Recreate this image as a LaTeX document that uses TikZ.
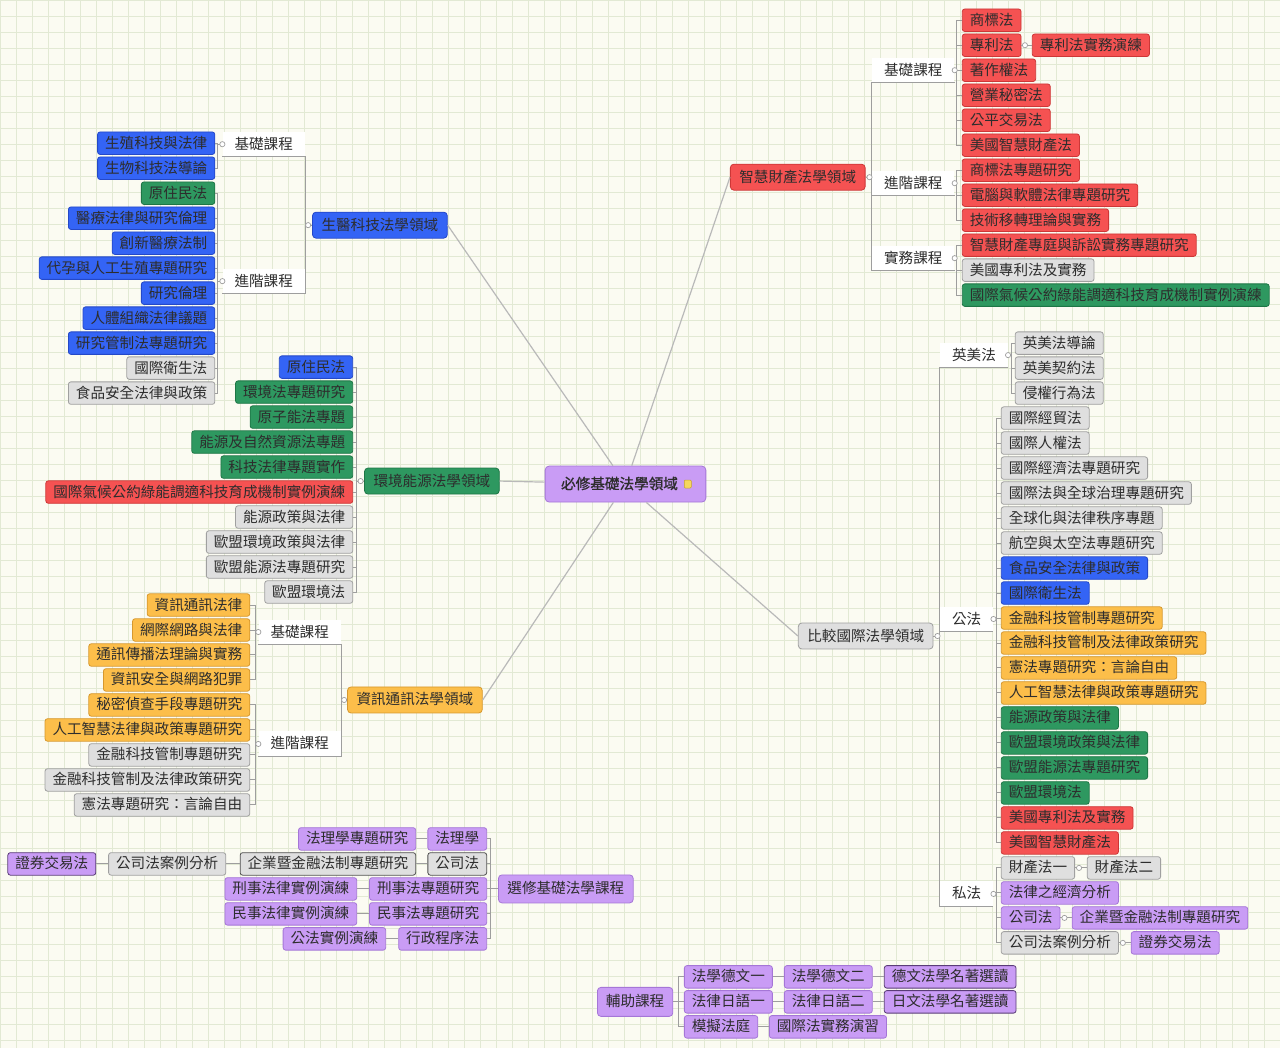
\documentclass[tikz,border=0pt]{standalone}
\usepackage{fontspec}
\setmainfont{Noto Sans CJK TC}
\newfontfamily\cjkb[FakeBold=1.2]{Noto Sans CJK TC}
\usetikzlibrary{calc}
\definecolor{bg}{RGB}{251,251,242}
\definecolor{gridc}{RGB}{226,233,212}
\definecolor{txt}{RGB}{45,45,45}
\definecolor{linec}{RGB}{158,158,158}
\definecolor{mainline}{RGB}{185,185,185}
\definecolor{bluef}{RGB}{52,100,245}
\definecolor{blued}{RGB}{36,72,200}
\definecolor{greenf}{RGB}{46,152,96}
\definecolor{greend}{RGB}{30,118,70}
\definecolor{redf}{RGB}{245,82,82}
\definecolor{redd}{RGB}{205,55,55}
\definecolor{orangef}{RGB}{252,190,74}
\definecolor{oranged}{RGB}{215,152,45}
\definecolor{grayf}{RGB}{223,223,223}
\definecolor{grayd}{RGB}{160,160,160}
\definecolor{purplef}{RGB}{201,156,245}
\definecolor{purpled}{RGB}{165,118,215}
\definecolor{darkd}{RGB}{80,80,80}
\definecolor{darkp}{RGB}{90,60,120}
\definecolor{notef}{RGB}{245,215,95}
\definecolor{noted}{RGB}{200,165,40}
\begin{document}
\begin{tikzpicture}[x=1pt,y=-1pt,
 nbox/.style={draw, rounded corners=2.5pt, line width=0.8pt, inner xsep=7.5pt, inner ysep=0pt, minimum height=22.5pt, text height=12.5pt, text depth=2.5pt, font=\fontsize{14.6}{16}\selectfont, text=txt},
 bl/.style={nbox, fill=bluef, draw=blued},
 gr/.style={nbox, fill=greenf, draw=greend},
 rd/.style={nbox, fill=redf, draw=redd},
 og/.style={nbox, fill=orangef, draw=oranged},
 gy/.style={nbox, fill=grayf, draw=grayd},
 pu/.style={nbox, fill=purplef, draw=purpled},
 topic/.style={minimum height=26pt, inner xsep=9pt, rounded corners=3.5pt},
 lab/.style={fill=white, inner xsep=12pt, inner ysep=0pt, minimum height=25pt, text height=12.5pt, text depth=2.5pt, font=\fontsize{14.6}{16}\selectfont, text=txt},
 conn/.style={draw=linec, line width=1pt},
 mconn/.style={draw=mainline, line width=1.2pt},
 knob/.style={draw=linec, fill=white, line width=0.7pt},
]
\fill[bg] (0,0) rectangle (1280,1048);
\draw[gridc, line width=0.5pt, step=16pt] (0,0) grid (1280,1048);
\useasboundingbox (0,0) rectangle (1280,1048);

% ---------- center ----------
\node[pu, minimum height=36pt, inner xsep=16pt, rounded corners=4pt, font=\cjkb\fontsize{14.6}{16}\selectfont] (center) at (625.5,484) {必修基礎法學領域\kern12pt\relax};

% ---------- bio ----------
\node[bl, topic, anchor=west] (bio) at (312,225) {生醫科技法學領域};
\node[lab, anchor=east] (bioA) at (305,144) {基礎課程};
\node[lab, anchor=east] (bioB) at (305,281) {進階課程};
\node[bl, anchor=east] (b1) at (215,143) {生殖科技與法律};
\node[bl, anchor=east] (b2) at (215,168) {生物科技法導論};
\node[gr, anchor=east] (b3) at (215,193) {原住民法};
\node[bl, anchor=east] (b4) at (215,218) {醫療法律與研究倫理};
\node[bl, anchor=east] (b5) at (215,243) {創新醫療法制};
\node[bl, anchor=east] (b6) at (215,268) {代孕與人工生殖專題研究};
\node[bl, anchor=east] (b7) at (215,293) {研究倫理};
\node[bl, anchor=east] (b8) at (215,318) {人體組織法律議題};
\node[bl, anchor=east] (b9) at (215,343) {研究管制法專題研究};
\node[gy, anchor=east] (b10) at (215,368) {國際衛生法};
\node[gy, anchor=east] (b11) at (215,393) {食品安全法律與政策};

% ---------- env ----------
\node[gr, topic, anchor=west] (env) at (364,481) {環境能源法學領域};
\node[bl, anchor=east] (e1) at (353,367) {原住民法};
\node[gr, anchor=east] (e2) at (353,392) {環境法專題研究};
\node[gr, anchor=east] (e3) at (353,417) {原子能法專題};
\node[gr, anchor=east] (e4) at (353,442) {能源及自然資源法專題};
\node[gr, anchor=east] (e5) at (353,467) {科技法律專題實作};
\node[rd, anchor=east] (e6) at (353,492) {國際氣候公約綠能調適科技育成機制實例演練};
\node[gy, anchor=east] (e7) at (353,517) {能源政策與法律};
\node[gy, anchor=east] (e8) at (353,542) {歐盟環境政策與法律};
\node[gy, anchor=east] (e9) at (353,567) {歐盟能源法專題研究};
\node[gy, anchor=east] (e10) at (353,592) {歐盟環境法};

% ---------- ict ----------
\node[og, topic, anchor=west] (ict) at (347,700) {資訊通訊法學領域};
\node[lab, anchor=east] (ictA) at (341,632) {基礎課程};
\node[lab, anchor=east] (ictB) at (341,744) {進階課程};
\node[og, anchor=east] (i1) at (250,605) {資訊通訊法律};
\node[og, anchor=east] (i2) at (250,630) {網際網路與法律};
\node[og, anchor=east] (i3) at (250,655) {通訊傳播法理論與實務};
\node[og, anchor=east] (i4) at (250,680) {資訊安全與網路犯罪};
\node[og, anchor=east] (i5) at (250,705) {秘密偵查手段專題研究};
\node[og, anchor=east] (i6) at (250,730) {人工智慧法律與政策專題研究};
\node[gy, anchor=east] (i7) at (250,755) {金融科技管制專題研究};
\node[gy, anchor=east] (i8) at (250,780) {金融科技管制及法律政策研究};
\node[gy, anchor=east] (i9) at (250,805) {憲法專題研究：言論自由};

% ---------- ip ----------
\node[rd, topic, anchor=west] (ip) at (730,177) {智慧財產法學領域};
\node[lab, anchor=west] (ipA) at (872,70) {基礎課程};
\node[lab, anchor=west] (ipB) at (872,183) {進階課程};
\node[lab, anchor=west] (ipC) at (872,258) {實務課程};
\node[rd, anchor=west] (p1) at (962,20) {商標法};
\node[rd, anchor=west] (p2) at (962,45) {專利法};
\node[rd, anchor=west] (p2b) at (1032,45) {專利法實務演練};
\node[rd, anchor=west] (p3) at (962,70) {著作權法};
\node[rd, anchor=west] (p4) at (962,95) {營業秘密法};
\node[rd, anchor=west] (p5) at (962,120) {公平交易法};
\node[rd, anchor=west] (p6) at (962,145) {美國智慧財產法};
\node[rd, anchor=west] (p7) at (962,170) {商標法專題研究};
\node[rd, anchor=west] (p8) at (962,195) {電腦與軟體法律專題研究};
\node[rd, anchor=west] (p9) at (962,220) {技術移轉理論與實務};
\node[rd, anchor=west] (p10) at (962,245) {智慧財產專庭與訴訟實務專題研究};
\node[gy, anchor=west] (p11) at (962,270) {美國專利法及實務};
\node[gr, anchor=west] (p12) at (962,295) {國際氣候公約綠能調適科技育成機制實例演練};

% ---------- comp ----------
\node[gy, topic, anchor=west] (comp) at (798,636) {比較國際法學領域};
\node[lab, anchor=west] (compA) at (940,355) {英美法};
\node[lab, anchor=west] (compB) at (940,619) {公法};
\node[lab, anchor=west] (compC) at (940,894) {私法};
\node[gy, anchor=west] (c1) at (1015,343) {英美法導論};
\node[gy, anchor=west] (c2) at (1015,368) {英美契約法};
\node[gy, anchor=west] (c3) at (1015,393) {侵權行為法};
\node[gy, anchor=west] (c4) at (1001,418) {國際經貿法};
\node[gy, anchor=west] (c5) at (1001,443) {國際人權法};
\node[gy, anchor=west] (c6) at (1001,468) {國際經濟法專題研究};
\node[gy, anchor=west] (c7) at (1001,493) {國際法與全球治理專題研究};
\node[gy, anchor=west] (c8) at (1001,518) {全球化與法律秩序專題};
\node[gy, anchor=west] (c9) at (1001,543) {航空與太空法專題研究};
\node[bl, anchor=west] (c10) at (1001,568) {食品安全法律與政策};
\node[bl, anchor=west] (c11) at (1001,593) {國際衛生法};
\node[og, anchor=west] (c12) at (1001,618) {金融科技管制專題研究};
\node[og, anchor=west] (c13) at (1001,643) {金融科技管制及法律政策研究};
\node[og, anchor=west] (c14) at (1001,668) {憲法專題研究：言論自由};
\node[og, anchor=west] (c15) at (1001,693) {人工智慧法律與政策專題研究};
\node[gr, anchor=west] (c16) at (1001,718) {能源政策與法律};
\node[gr, anchor=west] (c17) at (1001,743) {歐盟環境政策與法律};
\node[gr, anchor=west] (c18) at (1001,768) {歐盟能源法專題研究};
\node[gr, anchor=west] (c19) at (1001,793) {歐盟環境法};
\node[rd, anchor=west] (c20) at (1001,818) {美國專利法及實務};
\node[rd, anchor=west] (c21) at (1001,843) {美國智慧財產法};
\node[gy, anchor=west] (c22) at (1001,868) {財產法一};
\node[gy, anchor=west] (c22b) at (1087,868) {財產法二};
\node[pu, anchor=west] (c23) at (1001,893) {法律之經濟分析};
\node[pu, anchor=west] (c24) at (1001,918) {公司法};
\node[pu, anchor=west] (c24b) at (1072,918) {企業暨金融法制專題研究};
\node[gy, anchor=west] (c25) at (1001,943) {公司法案例分析};
\node[pu, anchor=west] (c25b) at (1131,943) {證券交易法};

% ---------- elective ----------
\node[pu, topic, minimum height=28pt, anchor=west] (elect) at (498,889) {選修基礎法學課程};
\node[pu, anchor=east] (l1) at (487,839) {法理學};
\node[pu, anchor=east] (l1b) at (416,839) {法理學專題研究};
\node[gy, draw=darkd, anchor=east] (l2) at (487,864) {公司法};
\node[gy, draw=darkd, anchor=east] (l2b) at (416,864) {企業暨金融法制專題研究};
\node[gy, anchor=east] (l2c) at (226,864) {公司法案例分析};
\node[pu, draw=darkp, anchor=east] (l2d) at (96,864) {證券交易法};
\node[pu, anchor=east] (l3) at (487,889) {刑事法專題研究};
\node[pu, anchor=east] (l3b) at (357,889) {刑事法律實例演練};
\node[pu, anchor=east] (l4) at (487,914) {民事法專題研究};
\node[pu, anchor=east] (l4b) at (357,914) {民事法律實例演練};
\node[pu, anchor=east] (l5) at (487,939) {行政程序法};
\node[pu, anchor=east] (l5b) at (386,939) {公法實例演練};

% ---------- auxiliary ----------
\node[pu, topic, minimum height=29pt, inner xsep=8.5pt, anchor=west] (aux) at (597,1002) {輔助課程};
\node[pu, anchor=west] (a1) at (684,977) {法學德文一};
\node[pu, anchor=west] (a1b) at (784,977) {法學德文二};
\node[pu, draw=darkp, anchor=west] (a1c) at (884,977) {德文法學名著選讀};
\node[pu, anchor=west] (a2) at (684,1002) {法律日語一};
\node[pu, anchor=west] (a2b) at (784,1002) {法律日語二};
\node[pu, draw=darkp, anchor=west] (a2c) at (884,1002) {日文法學名著選讀};
\node[pu, anchor=west] (a3) at (684,1027) {模擬法庭};
\node[pu, anchor=west] (a3b) at (769,1027) {國際法實務演習};

% ---------- main connectors ----------
\draw[mconn] (center) -- (bio.east);
\draw[mconn] (center) -- (ip.west);
\draw[mconn] (center) -- (env.east);
\draw[mconn] (center) -- (ict.east);
\draw[mconn] (center) -- (comp.west);

% ---------- bio connectors ----------
\draw[conn] (bio.west) -| (bioA.south east) -- (bioA.south west);
\draw[conn] (bio.west) -| (bioB.south east) -- (bioB.south west);
\foreach \n in {b1,b2} \draw[conn] (\n.east) -- ++(2,0) |- (bioA.west);
\foreach \n in {b3,b4,b5,b6,b7,b8,b9,b10,b11} \draw[conn] (\n.east) -- ++(2,0) |- (bioB.west);

% ---------- env connectors ----------
\foreach \n in {e1,e2,e3,e4,e5,e6,e7,e8,e9,e10} \draw[conn] (\n.east) -- ++(3,0) |- (env.west);

% ---------- ict connectors ----------
\draw[conn] (ict.west) -| (ictA.south east) -- (ictA.south west);
\draw[conn] (ict.west) -| (ictB.south east) -- (ictB.south west);
\foreach \n in {i1,i2,i3,i4} \draw[conn] (\n.east) -- ++(5,0) |- (ictA.west);
\foreach \n in {i5,i6,i7,i8,i9} \draw[conn] (\n.east) -- ++(5,0) |- (ictB.west);

% ---------- ip connectors ----------
\draw[conn] (ip.east) -| (ipA.south west) -- (ipA.south east);
\draw[conn] (ip.east) -| (ipB.south west) -- (ipB.south east);
\draw[conn] (ip.east) -| (ipC.south west) -- (ipC.south east);
\foreach \n in {p1,p2,p3,p4,p5,p6} \draw[conn] (\n.west) -- ++(-5,0) |- (ipA.east);
\foreach \n in {p7,p8,p9} \draw[conn] (\n.west) -- ++(-5,0) |- (ipB.east);
\foreach \n in {p10,p11,p12} \draw[conn] (\n.west) -- ++(-5,0) |- (ipC.east);
\draw[conn] (p2.east) -- (p2b.west);

% ---------- comp connectors ----------
\draw[conn] (comp.east) -| (compA.south west) -- (compA.south east);
\draw[conn] (comp.east) -| (compB.south west) -- (compB.south east);
\draw[conn] (comp.east) -| (compC.south west) -- (compC.south east);
\foreach \n in {c1,c2,c3} \draw[conn] (\n.west) -- ++(-3,0) |- (compA.east);
\foreach \n in {c4,c5,c6,c7,c8,c9,c10,c11,c12,c13,c14,c15,c16,c17,c18,c19,c20,c21} \draw[conn] (\n.west) -- ++(-4,0) |- (compB.east);
\foreach \n in {c22,c23,c24,c25} \draw[conn] (\n.west) -- ++(-4,0) |- (compC.east);
\draw[conn] (c22.east) -- (c22b.west);
\draw[conn] (c24.east) -- (c24b.west);
\draw[conn] (c25.east) -- (c25b.west);

% ---------- elective connectors ----------
\foreach \n in {l1,l2,l3,l4,l5} \draw[conn] (\n.east) -- ++(3,0) |- (elect.west);
\draw[conn] (l1b.east) -- (l1.west);
\draw[conn] (l2b.east) -- (l2.west);
\draw[conn] (l2c.east) -- (l2b.west);
\draw[conn] (l2d.east) -- (l2c.west);
\draw[conn] (l3b.east) -- (l3.west);
\draw[conn] (l4b.east) -- (l4.west);
\draw[conn] (l5b.east) -- (l5.west);

% ---------- aux connectors ----------
\foreach \n in {a1,a2,a3} \draw[conn] (\n.west) -- ++(-5,0) |- (aux.east);
\draw[conn] (a1.east) -- (a1b.west);
\draw[conn] (a1b.east) -- (a1c.west);
\draw[conn] (a2.east) -- (a2b.west);
\draw[conn] (a2b.east) -- (a2c.west);
\draw[conn] (a3.east) -- (a3b.west);

% ---------- knobs ----------
\draw[knob] (bio.west) ++(-4,0) circle (2.6pt);
\draw[knob] (bioA.west) circle (2.6pt);
\draw[knob] (bioB.west) circle (2.6pt);
\draw[knob] (env.west) ++(-3.5,0) circle (2.6pt);
\draw[knob] (ict.west) ++(-3,0) circle (2.6pt);
\draw[knob] (ictA.west) circle (2.6pt);
\draw[knob] (ictB.west) circle (2.6pt);
\draw[knob] (ip.east) ++(4,0) circle (2.6pt);
\draw[knob] (ipA.east) circle (2.6pt);
\draw[knob] (ipB.east) circle (2.6pt);
\draw[knob] (ipC.east) circle (2.6pt);
\draw[knob] (p2.east) ++(3.5,0) circle (2.6pt);
\draw[knob] (comp.east) ++(4,0) circle (2.6pt);
\draw[knob] (compA.east) circle (2.6pt);
\draw[knob] (compB.east) circle (2.6pt);
\draw[knob] (compC.east) circle (2.6pt);
\draw[knob] (c22.east) ++(4,0) circle (2.6pt);
\draw[knob] (c24.east) ++(4,0) circle (2.6pt);
\draw[knob] (c25.east) ++(4,0) circle (2.6pt);

% note icon on center
\draw[fill=notef, draw=noted, line width=0.5pt, rounded corners=1pt] ($(center.east)+(-22,-4)$) rectangle ++(7,8);
\end{tikzpicture}
\end{document}
